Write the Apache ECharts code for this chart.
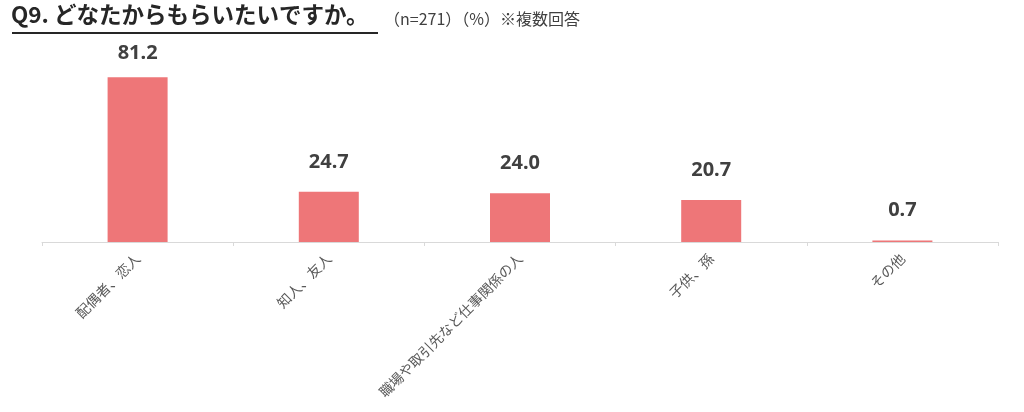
<!DOCTYPE html>
<html><head><meta charset="utf-8">
<script src="https://cdn.jsdelivr.net/npm/echarts@6/dist/echarts.min.js"></script>
<style>html,body{margin:0;padding:0;background:#fff}#c{width:1024px;height:412px}</style>
</head><body><div id="c"></div>
<script>
const categories = ['配偶者、恋人', '知人、友人', '職場や取引先など仕事関係の人', '子供、孫', 'その他'];
const values = [81.2, 24.7, 24.0, 20.7, 0.7];
const titleMain = 'Q9. どなたからもらいたいですか。';
const titleSub = '（n=271）（%）※複数回答';

const JP = '"Noto Sans CJK JP", "Noto Sans", sans-serif';
const chart = echarts.init(document.getElementById('c'));
const seriesData = values.map((v, i) => i === 0 ? { value: v, label: { distance: 14 } } : v);
chart.setOption({
  animation: false,
  textStyle: { fontFamily: JP },
  graphic: [
    { type: 'text', left: 11, top: 3,
      style: { text: titleMain, font: 'bold 22.5px ' + JP, fill: '#262626' } },
    { type: 'text', left: 384, top: 11,
      style: { text: titleSub, font: '16px ' + JP, fill: '#404040' } },
    { type: 'line', shape: { x1: 12, y1: 33, x2: 378, y2: 33 },
      style: { stroke: '#262626', lineWidth: 2 } }
  ],
  grid: { left: 42, right: 26, top: 39, bottom: 170 },
  xAxis: {
    type: 'category', data: categories,
    axisLine: { lineStyle: { color: '#d9d9d9', width: 1 } },
    axisTick: { show: true, length: 4, lineStyle: { color: '#d9d9d9' } },
    axisLabel: { rotate: 45, color: '#595959', fontSize: 14, margin: 14, interval: 0 }
  },
  yAxis: {
    type: 'value', min: 0, max: 100, show: false,
    splitLine: { show: false }
  },
  series: [{
    type: 'bar', data: seriesData, barWidth: 60,
    itemStyle: { color: '#ee7678' },
    label: {
      show: true, position: 'top', distance: 20,
      formatter: p => p.value.toFixed(1),
      fontSize: 20, fontWeight: 'bold', color: '#404040',
      fontFamily: '"Noto Sans", "DejaVu Sans", sans-serif'
    }
  }]
});
</script></body></html>
